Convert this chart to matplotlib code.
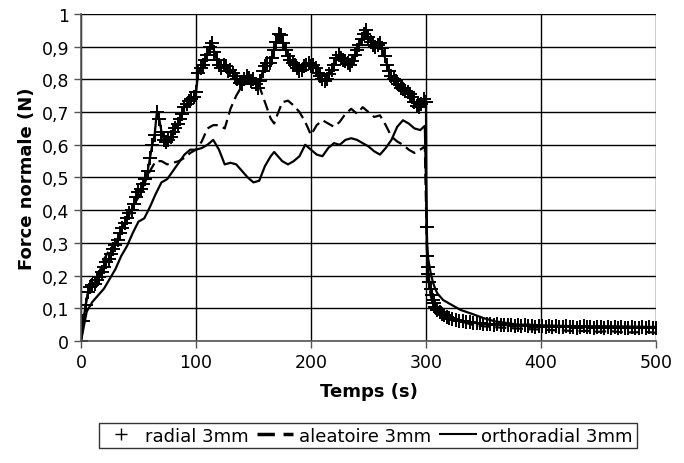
import matplotlib
matplotlib.use("Agg")
import matplotlib.pyplot as plt
from matplotlib.ticker import FuncFormatter

# Données lues sur le graphique de référence
# radial 3mm : un point toutes les 2 s jusqu'à 300 s, puis la chute et la relaxation
temps_radial = (list(range(0, 301, 2))
                + [300.5, 301, 301.5, 302, 303, 304, 305, 306, 307, 308, 310, 312, 314, 316, 318, 320]
                + list(range(323, 501, 3)))
force_radial = [
    0.00, 0.06, 0.11, 0.15, 0.165, 0.17, 0.175, 0.185, 0.195, 0.21,        # 0-18
    0.225, 0.24, 0.25, 0.265, 0.28, 0.295, 0.31, 0.33, 0.345, 0.36,        # 20-38
    0.375, 0.39, 0.40, 0.42, 0.44, 0.455, 0.465, 0.48, 0.495, 0.52,        # 40-58
    0.56, 0.60, 0.63, 0.70, 0.68, 0.64, 0.615, 0.61, 0.615, 0.625,         # 60-78
    0.64, 0.65, 0.665, 0.68, 0.695, 0.715, 0.725, 0.735, 0.74, 0.745,      # 80-98
    0.76, 0.82, 0.835, 0.845, 0.86, 0.875, 0.90, 0.91, 0.885, 0.86,        # 100-118
    0.845, 0.835, 0.845, 0.84, 0.825, 0.83, 0.82, 0.81, 0.80, 0.79,        # 120-138
    0.785, 0.80, 0.81, 0.805, 0.795, 0.80, 0.785, 0.775, 0.795, 0.825,     # 140-158
    0.84, 0.85, 0.85, 0.865, 0.89, 0.915, 0.94, 0.935, 0.91, 0.89,         # 160-178
    0.87, 0.86, 0.85, 0.845, 0.835, 0.825, 0.83, 0.84, 0.845, 0.85,        # 180-198
    0.84, 0.845, 0.835, 0.82, 0.81, 0.80, 0.795, 0.80, 0.815, 0.83,        # 200-218
    0.845, 0.865, 0.875, 0.865, 0.86, 0.855, 0.85, 0.845, 0.855, 0.875,    # 220-238
    0.89, 0.905, 0.925, 0.94, 0.95, 0.93, 0.915, 0.905, 0.90, 0.905,       # 240-258
    0.91, 0.895, 0.87, 0.845, 0.825, 0.81, 0.80, 0.795, 0.785, 0.775,      # 260-278
    0.77, 0.765, 0.76, 0.755, 0.745, 0.73, 0.72, 0.715, 0.725, 0.74,       # 280-298
    0.73,                                                                  # 300
    0.35, 0.26, 0.225, 0.205, 0.18, 0.16, 0.14, 0.125, 0.115, 0.105,       # chute
    0.095, 0.088, 0.082, 0.078, 0.074, 0.07,
    0.067, 0.064, 0.062, 0.06, 0.059, 0.057, 0.056, 0.054, 0.055, 0.052,   # 323-350
    0.053, 0.051, 0.05, 0.052, 0.049, 0.05, 0.048, 0.05, 0.047, 0.048,
    0.046, 0.048, 0.045, 0.047, 0.044, 0.046, 0.045, 0.043, 0.046, 0.044,
    0.045, 0.042, 0.044, 0.046, 0.043, 0.044, 0.041, 0.043, 0.045, 0.042,
    0.043, 0.041, 0.044, 0.042, 0.04, 0.043, 0.041, 0.042, 0.04, 0.043,
    0.041, 0.039, 0.042, 0.04, 0.041, 0.043, 0.04, 0.042, 0.039, 0.041,   # -500
]

temps_alea = [0, 5, 10, 15, 20, 25, 30, 35, 40, 45, 50, 55, 60, 65, 70, 75, 80, 85, 90, 95,
              100, 105, 110, 115, 120, 125, 130, 135, 140, 145, 150, 155, 160, 165, 168, 170,
              175, 180, 185, 190, 195, 200, 205, 210, 215, 220, 225, 230, 235, 240, 245, 250,
              255, 260, 265, 270, 275, 280, 285, 290, 295, 299, 300.5, 301, 302, 304, 306,
              308, 310, 315, 320, 330, 340, 350, 360, 370, 380, 390, 400, 410, 420, 430, 440,
              450, 460, 470, 480, 490, 500]
force_alea = [0.0, 0.13, 0.17, 0.20, 0.25, 0.28, 0.30, 0.34, 0.37, 0.41, 0.44, 0.48, 0.52,
              0.55, 0.55, 0.54, 0.545, 0.55, 0.56, 0.575, 0.585, 0.61, 0.65, 0.66, 0.66, 0.65,
              0.71, 0.75, 0.78, 0.79, 0.795, 0.78, 0.73, 0.68, 0.665, 0.685, 0.73, 0.735,
              0.72, 0.70, 0.67, 0.63, 0.66, 0.675, 0.665, 0.655, 0.67, 0.695, 0.71, 0.695,
              0.715, 0.70, 0.685, 0.69, 0.66, 0.625, 0.61, 0.60, 0.585, 0.575, 0.585, 0.595,
              0.33, 0.25, 0.19, 0.14, 0.115, 0.10, 0.09, 0.08, 0.07, 0.06, 0.05, 0.045, 0.042,
              0.04, 0.038, 0.036, 0.035, 0.033, 0.032, 0.03, 0.031, 0.028, 0.03, 0.027, 0.026,
              0.028, 0.025]

temps_ortho = [0, 5, 10, 15, 20, 25, 30, 35, 40, 45, 50, 55, 60, 65, 70, 75, 80, 85, 90, 95,
               100, 105, 110, 115, 120, 125, 130, 135, 140, 145, 150, 155, 160, 165, 168, 170,
               175, 180, 185, 190, 195, 200, 205, 210, 215, 220, 225, 230, 235, 240, 245, 250,
               255, 260, 265, 270, 275, 280, 285, 290, 295, 299, 300.5, 301, 302, 304, 306,
               308, 310, 315, 320, 325, 330, 340, 350, 360, 370, 380, 390, 400, 420, 440, 460,
               480, 500]
force_ortho = [0.0, 0.09, 0.12, 0.14, 0.16, 0.19, 0.22, 0.26, 0.29, 0.33, 0.365, 0.375, 0.41,
               0.45, 0.485, 0.495, 0.52, 0.545, 0.57, 0.585, 0.585, 0.59, 0.60, 0.615, 0.585,
               0.54, 0.545, 0.54, 0.52, 0.50, 0.485, 0.49, 0.535, 0.565, 0.578, 0.57, 0.55,
               0.54, 0.55, 0.565, 0.60, 0.585, 0.57, 0.565, 0.59, 0.605, 0.60, 0.615, 0.62,
               0.615, 0.605, 0.595, 0.58, 0.57, 0.59, 0.615, 0.655, 0.675, 0.665, 0.65, 0.645,
               0.658, 0.40, 0.30, 0.25, 0.21, 0.18, 0.16, 0.145, 0.125, 0.115, 0.105, 0.095,
               0.083, 0.07, 0.06, 0.055, 0.05, 0.05, 0.048, 0.046, 0.045, 0.045, 0.044, 0.043]

plt.rcParams['font.family'] = ['DejaVu Sans']

fig = plt.figure(figsize=(6.84, 4.64), dpi=100)
ax = fig.add_axes([0.1184, 0.263, 0.8406, 0.7047])

ax.plot(temps_alea, force_alea, color='black', lw=1.6, ls=(0, (5, 2.5)), label='aleatoire 3mm')
ax.plot(temps_ortho, force_ortho, color='black', lw=1.6, label='orthoradial 3mm')
ax.plot(temps_radial, force_radial, color='black', lw=1.6, marker='+', ms=10, mew=1.4,
        label='radial 3mm')

ax.set_xlim(0, 500)
ax.set_ylim(0, 1)
ax.set_xticks(range(0, 501, 100))
ax.set_yticks([i / 10 for i in range(11)])
ax.yaxis.set_major_formatter(FuncFormatter(lambda v, p: ('%g' % round(v, 1)).replace('.', ',')))
ax.grid(True, color='black', lw=1.0)
ax.set_axisbelow(True)
ax.tick_params(labelsize=12.5, length=5, width=1, color='#555555', direction='out')
for s in ['top', 'right']:
    ax.spines[s].set_visible(False)
for s in ['left', 'bottom']:
    ax.spines[s].set_color('#555555')
    ax.spines[s].set_linewidth(1.2)

ax.set_xlabel('Temps (s)', fontsize=13, fontweight='bold', labelpad=8)
ax.set_ylabel('Force normale (N)', fontsize=13, fontweight='bold', labelpad=4)

h, l = ax.get_legend_handles_labels()
ordre = [2, 0, 1]
leg = fig.legend([h[i] for i in ordre], [l[i] for i in ordre], loc='lower center',
                 bbox_to_anchor=(0.538, 0.012), ncol=3, fontsize=13, frameon=True,
                 fancybox=False, edgecolor='black', handlelength=2.0, handletextpad=0.3,
                 columnspacing=0.5, borderpad=0.2)
leg.get_frame().set_linewidth(1.0)
for lh in leg.legend_handles:
    if lh.get_marker() == '+':
        lh.set_linestyle('none')
        lh.set_markersize(9)
        lh.set_markeredgewidth(1.0)
    elif lh.get_label() == 'aleatoire 3mm':
        lh.set_linewidth(2.5)
        lh.set_linestyle((0, (5, 2.5)))
    else:
        lh.set_linewidth(1.5)

fig.savefig('out.png', dpi=100)
